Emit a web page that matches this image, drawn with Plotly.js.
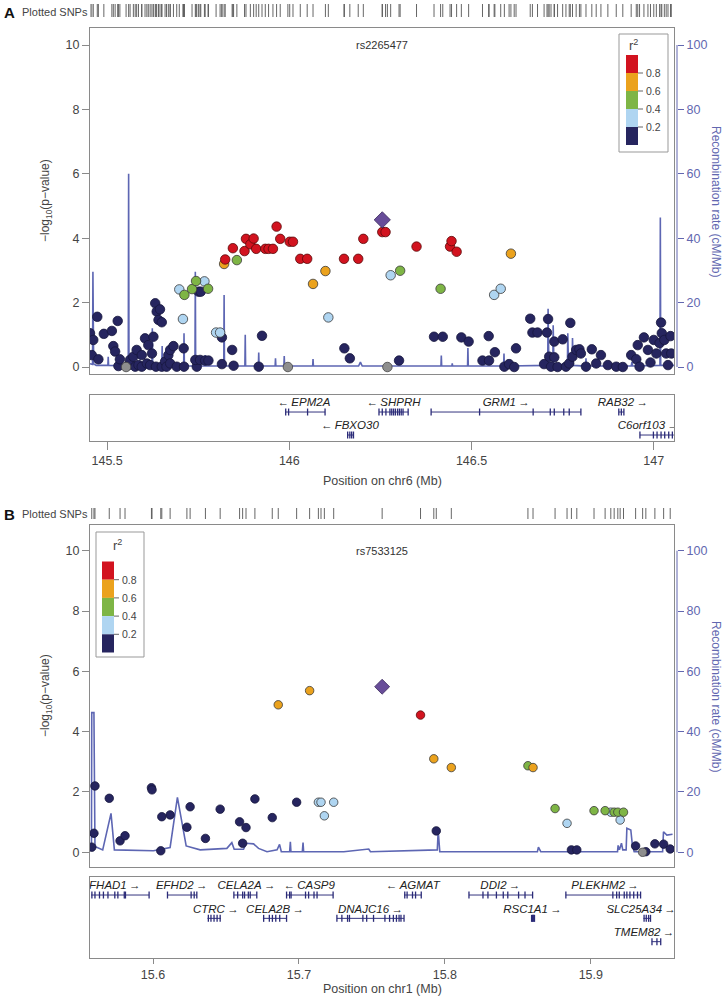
<!DOCTYPE html>
<html>
<head>
<meta charset="utf-8">
<script src="https://cdn.plot.ly/plotly-3.0.1.min.js"></script>
<style>html,body{margin:0;padding:0;background:#fff;}#plot{width:724px;height:996px;}</style>
</head>
<body>
<div id="plot"></div>
<script>
// ---------------- Panel A data (chr6) ----------------
const aNavyPos = [145.453,145.462,145.458,145.473,145.476,145.491,145.513,145.529,145.517,145.522,145.531,145.535,145.559,145.563,145.572,145.577,145.581,145.586,145.595,145.595,145.604,145.609,145.613,145.618,145.623,145.627,145.632,145.636,145.645,145.641,145.650,145.634,145.650,145.659,145.663,145.668,145.673,145.682,145.673,145.691,145.710,145.711,145.746,145.742,145.751,145.757,145.755,145.769,145.778,145.815,145.815,145.843,145.847,145.916,145.925,146.151,146.166,146.301,146.397,146.421,146.472,146.492,146.547,146.564,146.530,146.548,146.590,146.603,146.617,146.622,146.661,146.710,146.667,146.681,146.707,146.727,146.750,146.771,146.699,146.713,146.727,146.718,146.736,146.759,146.768,146.777,146.787,146.796,146.800,146.814,146.830,146.842,146.855,146.874,146.897,146.915,146.938,146.952,146.956,146.961,146.973,146.984,146.991,147.000,147.007,147.016,147.020,147.022,147.029,147.034,147.039,147.046,147.048];
const aNavyP = [1.05,0.84,0.37,1.56,0.24,1.03,1.12,1.43,0.65,0.48,0.03,0.24,0.06,0.22,0.32,0.01,0.53,0.06,0.37,0.01,0.89,0.11,0.68,0.06,0.42,0.94,1.98,1.72,1.79,1.46,1.39,0.01,0.01,0.17,0.01,0.37,0.53,0.65,0.11,0.01,0.58,0.01,0.01,0.22,2.34,2.34,0.22,0.20,0.20,0.92,0.09,0.53,0.04,0.01,0.97,0.58,0.27,0.20,0.94,0.94,0.92,0.79,0.96,0.46,0.20,0.20,0.01,0.09,0.00,0.58,1.50,1.49,1.07,1.07,1.07,0.79,0.86,1.37,0.09,0.32,0.30,0.01,0.00,0.01,0.11,0.32,0.53,0.55,0.42,0.01,0.55,0.11,0.37,0.06,0.01,0.00,0.37,0.24,0.68,0.01,0.92,0.53,0.14,0.84,0.42,0.74,1.38,1.05,0.84,0.42,0.06,0.96,0.42];
const aGrayPos = [145.552,145.996,146.269];
const aGrayP = [0,0,0];
const aLBluePos = [145.698,145.708,145.767,145.799,145.810,146.107,146.278,146.562,146.580];
const aLBlueP = [2.41,1.49,2.66,1.07,1.07,1.54,2.85,2.24,2.43];
const aGreenPos = [145.712,145.733,145.744,145.777,145.856,146.304,146.415];
const aGreenP = [2.24,2.42,2.67,2.43,3.32,2.99,2.43];
const aOrangePos = [145.821,146.065,146.099,146.608];
const aOrangeP = [3.20,2.58,2.98,3.52];
const aRedPos = [145.824,145.845,145.877,145.881,145.893,145.902,145.909,145.934,145.943,145.955,145.965,145.975,146.001,146.010,146.030,146.049,146.150,146.189,146.203,146.255,146.264,146.349,146.441,146.445,146.459];
const aRedP = [3.34,3.69,3.60,3.98,3.81,3.99,3.67,3.67,3.67,3.67,4.36,3.98,3.89,3.89,3.36,3.36,3.36,3.36,3.98,4.19,4.19,3.74,3.74,3.91,3.58];
const aLeadPos = [146.255];
const aLeadP = [4.57];
const aLeadName = "rs2265477";
const aRecPos = [145.453,145.460,145.461,145.463,145.470,145.502,145.503,145.504,145.540,145.558,145.559,145.560,145.600,145.623,145.624,145.625,145.650,145.651,145.652,145.710,145.711,145.712,145.741,145.742,145.743,145.768,145.769,145.770,145.820,145.821,145.822,145.878,145.879,145.880,145.915,145.916,145.917,145.961,145.962,145.963,145.985,145.986,145.987,146.064,146.065,146.066,146.190,146.195,146.200,146.416,146.417,146.418,146.446,146.447,146.448,146.489,146.490,146.491,146.588,146.589,146.590,146.709,146.710,146.712,146.723,146.724,146.726,146.763,146.764,146.766,146.776,146.777,146.779,146.813,146.814,146.815,146.938,146.940,146.942,147.017,147.018,147.019,147.0555];
const aRecRate = [1.0,0.8,29.6,1.0,0.5,0.5,3.2,0.5,0.4,0.4,60.0,0.4,0.3,0.3,12.0,0.3,0.3,6.5,0.3,0.3,10.5,0.3,0.3,29.6,0.3,0.3,3.7,0.3,0.3,22.4,0.3,0.3,10.0,0.3,0.3,4.5,0.3,0.3,2.7,0.3,0.3,3.4,0.3,0.3,2.5,0.3,0.3,1.5,0.3,0.3,3.6,0.3,0.3,1.1,0.3,0.3,5.9,0.3,0.3,4.2,0.3,0.5,18.1,1.5,1.5,13.0,1.0,0.5,10.5,1.0,1.0,9.0,0.5,0.3,2.7,0.3,0.3,1.5,0.3,0.5,46.4,0.5,0.5];
const aGeneNames = ["EPM2A","SHPRH","GRM1","RAB32","FBXO30","C6orf103"];
const aGeneStart = [145.990,146.246,146.389,146.904,146.160,146.962];
const aGeneEnd = [146.098,146.326,146.800,146.918,146.176,147.055];
const aGeneStrand = ["-","-","+","+","-","+"];
const aGeneRow = [1,1,1,1,2,2];
const aGeneLabelPos = [146.040,146.286,146.595,146.915,146.166,146.985];
const aGeneExons = [
  [145.990,145.998,146.050,146.098],
  [146.246,146.255,146.265,146.276,146.281,146.286,146.291,146.297,146.302,146.307,146.312,146.326],
  [146.389,146.522,146.669,146.716,146.727,146.753,146.768,146.800],
  [146.904,146.911,146.918],
  [146.160,146.166,146.171,146.176],
  [146.962,146.999,147.009,147.020,147.030,147.041,147.051]
];
const aTicks = [145.5,146,146.5,147];

// ---------------- Panel B data (chr1) ----------------
const bNavyPos = [15.5580,15.5595,15.5602,15.5700,15.5774,15.5808,15.5989,15.5993,15.6053,15.6060,15.6117,15.6232,15.6254,15.6359,15.6460,15.6593,15.6637,15.6614,15.6698,15.6817,15.6984,15.7941,15.8867,15.8904,15.9307,15.9377,15.9439,15.9499,15.9544];
const bNavyP = [0.17,0.63,2.20,1.79,0.38,0.55,2.14,2.07,0.05,1.18,1.24,0.83,1.51,0.46,1.43,1.01,0.82,0.30,1.77,1.15,1.66,0.71,0.08,0.08,0.21,0.02,0.28,0.27,0.11];
const bGrayPos = [15.9355];
const bGrayP = [0.0];
const bLBluePos = [15.7133,15.7151,15.7238,15.7174,15.8837,15.9137,15.9201];
const bLBlueP = [1.66,1.66,1.66,1.21,0.96,1.33,1.07];
const bGreenPos = [15.8569,15.8755,15.9022,15.9098,15.9160,15.9185,15.9224];
const bGreenP = [2.87,1.45,1.38,1.38,1.33,1.33,1.33];
const bOrangePos = [15.6858,15.7073,15.7924,15.8044,15.8604];
const bOrangeP = [4.89,5.36,3.10,2.81,2.81];
const bRedPos = [15.7833];
const bRedP = [4.55];
const bLeadPos = [15.7570];
const bLeadP = [5.49];
const bLeadName = "rs7533125";
const bRecPos = [15.5568,15.5578,15.5580,15.5595,15.5602,15.5655,15.5712,15.5735,15.6003,15.6117,15.6167,15.6227,15.6323,15.6506,15.6540,15.6556,15.6620,15.6639,15.6689,15.6723,15.6781,15.6850,15.6867,15.6879,15.6936,15.6941,15.6945,15.7023,15.7028,15.7032,15.7307,15.7478,15.7490,15.7948,15.7954,15.7965,15.8634,15.8641,15.8657,15.9183,15.9187,15.9196,15.9210,15.9219,15.9242,15.9247,15.9274,15.9285,15.9297,15.9492,15.9498,15.9521,15.9560];
const bRecRate = [1.7,1.7,46.3,46.3,1.9,0.8,12.9,0.8,0.5,1.6,18.2,2.1,0.8,1.3,3.2,1.0,1.0,3.0,2.8,1.3,0.2,0.8,2.6,0.2,0.2,3.5,0.2,0.2,3.2,0.2,0.2,1.1,0.2,0.8,7.1,0.2,0.2,1.7,0.2,0.2,2.3,0.8,3.0,0.8,0.8,8.0,7.4,2.3,0.2,0.2,6.8,5.7,6.0];
const bGeneNames = ["FHAD1","EFHD2","CELA2A","CASP9","AGMAT","DDI2","PLEKHM2","CTRC","CELA2B","DNAJC16","RSC1A1","SLC25A34","TMEM82"];
const bGeneStart = [15.5576,15.6099,15.6554,15.6915,15.7720,15.8165,15.8829,15.6373,15.6753,15.7260,15.8590,15.9360,15.9417];
const bGeneEnd = [15.5973,15.6300,15.6711,15.7234,15.7838,15.8601,15.9341,15.6465,15.6915,15.7720,15.8614,15.9409,15.9479];
const bGeneStrand = ["+","+","+","-","-","+","+","+","+","+","+","+","+"];
const bGeneRow = [1,1,1,1,1,1,1,2,2,2,2,2,3];
const bGeneLabelPos = [15.5738,15.6196,15.6640,15.7070,15.7780,15.8380,15.9098,15.6430,15.6836,15.7490,15.8600,15.9345,15.9365];
const bGeneExons = [
  [15.5581,15.5602,15.5633,15.5660,15.5691,15.5738,15.5759,15.5803,15.5811,15.5973],
  [15.6099,15.6261,15.6282,15.6300],
  [15.6554,15.6580,15.6614,15.6627,15.6653,15.6666,15.6711],
  [15.6915,15.6936,15.6946,15.7045,15.7066,15.7103,15.7124,15.7234],
  [15.7725,15.7741,15.7778,15.7799,15.7838],
  [15.8165,15.8261,15.8295,15.8353,15.8400,15.8431,15.8505,15.8549,15.8601],
  [15.8829,15.9151,15.9177,15.9195,15.9229,15.9247,15.9268,15.9294,15.9320,15.9341],
  [15.6379,15.6397,15.6418,15.6439,15.6460],
  [15.6758,15.6797,15.6818,15.6841,15.6868,15.6915],
  [15.7260,15.7294,15.7333,15.7346,15.7438,15.7464,15.7511,15.7589,15.7621,15.7647,15.7668,15.7686,15.7699,15.7720],
  [15.8594,15.8600,15.8604,15.8609,15.8614],
  [15.9365,15.9380,15.9396,15.9409],
  [15.9419,15.9453,15.9479]
];
const bTicks = [15.6,15.7,15.8,15.9];

const legendLabels = ["0.8","0.6","0.4","0.2"];

// ---------------- styling ----------------
const W = 724, H = 996;
const FONT = "Liberation Sans, Arial, sans-serif";
const C = {navy:'#26255F', gray:'#8E8E8E', lblue:'#AFD5F1', green:'#7EB545', orange:'#EBA21D', red:'#D2131F', lead:'#684D99', rec:'#5D66B3', recText:'#6267B0', axis:'#8A8A8A', text:'#444444'};
const legendColors = [C.red, C.orange, C.green, C.lblue, C.navy];
const PX = x => x / W;
const PY = y => 1 - y / H;

const traces = [];
const shapes = [];
const annotations = [];

function note(o) {
  annotations.push(Object.assign({xref:'paper', yref:'paper', showarrow:false, xanchor:'center', yanchor:'middle'}, o));
}

function pts(xs, ys, color, lineColor, size, xa, ya, symbol) {
  traces.push({type:'scatter', mode:'markers', x:xs, y:ys, xaxis:xa, yaxis:ya, hoverinfo:'skip',
    marker:{color:color, size:size, symbol:symbol||'circle', line:{color:lineColor, width:0.8}}});
}

function panel(P) {
  traces.push({type:'scatter', mode:'lines', x:P.recPos, y:P.recRate, xaxis:P.xa, yaxis:P.yRec,
    line:{color:C.rec, width:1.6}, hoverinfo:'skip'});
  pts(P.navy[0], P.navy[1], C.navy, '#16163d', P.ms, P.xa, P.yP);
  pts(P.gray[0], P.gray[1], C.gray, '#444', P.ms, P.xa, P.yP);
  pts(P.lblue[0], P.lblue[1], C.lblue, '#3a3a3a', P.ms, P.xa, P.yP);
  pts(P.green[0], P.green[1], C.green, '#3a3a3a', P.ms, P.xa, P.yP);
  pts(P.orange[0], P.orange[1], C.orange, '#3a3a3a', P.ms, P.xa, P.yP);
  pts(P.red[0], P.red[1], C.red, '#5a0a0a', P.ms, P.xa, P.yP);
  pts(P.lead[0], P.lead[1], C.lead, '#3b2a5c', P.ms + 3, P.xa, P.yP, 'diamond');
  const all = [].concat(P.navy[0], P.gray[0], P.lblue[0], P.green[0], P.orange[0], P.red[0], P.lead[0]);
  const rx = [], ry = [];
  all.forEach(p => { rx.push(p, p, null); ry.push(0, 1, null); });
  traces.push({type:'scatter', mode:'lines', x:rx, y:ry, xaxis:P.xa, yaxis:P.yRug,
    line:{color:'#555', width:0.9}, hoverinfo:'skip'});
  const gx = [], gy = [], ex = [], ey = [], lx = [], ly = [], lt = [];
  P.gNames.forEach((n, i) => {
    gx.push(P.gStart[i], P.gEnd[i], null); gy.push(P.gRow[i], P.gRow[i], null);
    P.gExons[i].forEach(e => { ex.push(e); ey.push(P.gRow[i]); });
    lx.push(P.gLabel[i]); ly.push(P.gRow[i] - 0.37);
    lt.push('<i>' + (P.gStrand[i] === '+' ? n + '\u2009\u2192' : '\u2190\u2009' + n) + '</i>');
  });
  traces.push({type:'scatter', mode:'lines', x:gx, y:gy, xaxis:P.xg, yaxis:P.yg,
    line:{color:'#34347F', width:1}, hoverinfo:'skip'});
  traces.push({type:'scatter', mode:'markers', x:ex, y:ey, xaxis:P.xg, yaxis:P.yg, hoverinfo:'skip',
    marker:{symbol:'line-ns', size:5, line:{color:'#2B2B78', width:1.3}}});
  traces.push({type:'scatter', mode:'text', x:lx, y:ly, text:lt, xaxis:P.xg, yaxis:P.yg, hoverinfo:'skip',
    textposition:'middle center', textfont:{family:FONT, size:11.5, color:'#222'}});
  annotations.push({x:P.lead[0][0], y:10, xref:P.xa, yref:P.yP, text:P.leadName, showarrow:false,
    xanchor:'center', yanchor:'middle', font:{family:FONT, size:11, color:'#333'}});
  shapes.push({type:'line', xref:'paper', yref:P.yRec, x0:PX(677), x1:PX(677), y0:0, y1:100,
    line:{color:C.recText, width:1}});
  const L = P.leg;
  shapes.push({type:'rect', xref:'paper', yref:'paper', x0:PX(L.x0), x1:PX(L.x1), y0:PY(L.y1), y1:PY(L.y0),
    line:{color:'#999', width:1}, fillcolor:'rgba(255,255,255,0.9)'});
  legendColors.forEach((c, i) => {
    shapes.push({type:'rect', xref:'paper', yref:'paper', x0:PX(L.bx0), x1:PX(L.bx1),
      y0:PY(L.by0 + (i + 1) * L.bh), y1:PY(L.by0 + i * L.bh), line:{width:0}, fillcolor:c});
  });
  legendLabels.forEach((t, i) => {
    const yy = L.by0 + (i + 1) * L.bh;
    shapes.push({type:'line', xref:'paper', yref:'paper', x0:PX(L.bx1), x1:PX(L.bx1 + 5), y0:PY(yy), y1:PY(yy),
      line:{color:'#666', width:1}});
    note({x:PX(L.bx1 + 6), y:PY(yy), text:t, xanchor:'left', font:{family:FONT, size:10.5, color:'#444'}});
  });
  note({x:PX(L.rx), y:PY(L.ry), text:'r<sup>2</sup>', font:{family:FONT, size:13, color:'#444'}});
  note({x:PX(46), y:PY(P.midY), text:'\u2212log<sub>10</sub>(p\u2212value)', textangle:-90,
    font:{family:FONT, size:12, color:C.text}});
  note({x:PX(716), y:PY(P.midY), text:'Recombination rate (cM/Mb)', textangle:90,
    font:{family:FONT, size:12, color:C.recText}});
  note({x:PX(382), y:PY(P.xTitleY), text:P.xTitle, font:{family:FONT, size:12.5, color:C.text}});
  note({x:PX(9), y:PY(P.letterY), text:'<b>' + P.letter + '</b>', font:{family:FONT, size:15, color:'#111'}});
  note({x:PX(20), y:PY(P.letterY), text:'Plotted SNPs', xanchor:'left', font:{family:FONT, size:11, color:'#444'}});
}

panel({xa:'x', yRec:'y', yP:'y2', yRug:'y3', xg:'x2', yg:'y4', ms:9.5,
  navy:[aNavyPos,aNavyP], gray:[aGrayPos,aGrayP], lblue:[aLBluePos,aLBlueP], green:[aGreenPos,aGreenP],
  orange:[aOrangePos,aOrangeP], red:[aRedPos,aRedP], lead:[aLeadPos,aLeadP], leadName:aLeadName,
  recPos:aRecPos, recRate:aRecRate,
  gNames:aGeneNames, gStart:aGeneStart, gEnd:aGeneEnd, gStrand:aGeneStrand, gRow:aGeneRow, gLabel:aGeneLabelPos, gExons:aGeneExons,
  leg:{x0:619, x1:668, y0:34, y1:152, bx0:626, bx1:638, by0:55, bh:18, rx:633, ry:45},
  midY:201, xTitleY:481, xTitle:'Position on chr6 (Mb)', letter:'A', letterY:12});

panel({xa:'x3', yRec:'y5', yP:'y6', yRug:'y7', xg:'x4', yg:'y8', ms:8.5,
  navy:[bNavyPos,bNavyP], gray:[bGrayPos,bGrayP], lblue:[bLBluePos,bLBlueP], green:[bGreenPos,bGreenP],
  orange:[bOrangePos,bOrangeP], red:[bRedPos,bRedP], lead:[bLeadPos,bLeadP], leadName:bLeadName,
  recPos:bRecPos, recRate:bRecRate,
  gNames:bGeneNames, gStart:bGeneStart, gEnd:bGeneEnd, gStrand:bGeneStrand, gRow:bGeneRow, gLabel:bGeneLabelPos, gExons:bGeneExons,
  leg:{x0:96, x1:144, y0:532, y1:657, bx0:102, bx1:114, by0:561.5, bh:18.2, rx:117, ry:545},
  midY:696, xTitleY:989, xTitle:'Position on chr1 (Mb)', letter:'B', letterY:514});

const tickFont = {family:FONT, size:12.5, color:C.text};
const recFont = {family:FONT, size:12.5, color:C.recText};
const hidden = {showgrid:false, zeroline:false, showticklabels:false, ticks:'', showline:false, fixedrange:true};
const dx = [PX(90), PX(674)];
const aRange = [145.453, 147.0555], bRange = [15.5568, 15.957];

const layout = {
  width:W, height:H, margin:{l:0, r:0, t:0, b:0}, showlegend:false,
  paper_bgcolor:'#fff', plot_bgcolor:'rgba(0,0,0,0)', font:{family:FONT},
  xaxis:{domain:dx, anchor:'y', range:aRange, showgrid:false, zeroline:false, showticklabels:false, ticks:'',
    showline:true, mirror:true, linecolor:C.axis, linewidth:1},
  yaxis:{domain:[PY(374), PY(28)], anchor:'free', position:PX(677), side:'right', range:[-2.17, 105.28],
    showgrid:false, zeroline:false, showline:false, ticks:'outside', ticklen:6, tickcolor:C.recText,
    tickvals:[0,20,40,60,80,100], tickfont:recFont},
  yaxis2:{overlaying:'y', anchor:'x', side:'left', range:[-0.217, 10.528], showgrid:false, zeroline:false,
    showline:true, mirror:true, linecolor:C.axis, ticks:'outside', ticklen:7, tickcolor:C.axis,
    tickvals:[0,2,4,6,8,10], tickfont:tickFont},
  yaxis3:Object.assign({domain:[PY(17), PY(4)], anchor:'x', range:[0,1]}, hidden),
  xaxis2:{domain:dx, anchor:'y4', range:aRange, showgrid:false, zeroline:false, showline:true, mirror:true,
    linecolor:C.axis, ticks:'outside', ticklen:8, tickcolor:C.axis, tickvals:aTicks,
    ticktext:aTicks.map(String), tickfont:tickFont},
  yaxis4:Object.assign({}, hidden, {domain:[PY(441), PY(395)], anchor:'x2', range:[2.26, 0.26],
    showline:true, mirror:true, linecolor:C.axis}),
  xaxis3:{domain:dx, anchor:'y5', range:bRange, showgrid:false, zeroline:false, showticklabels:false, ticks:'',
    showline:true, mirror:true, linecolor:C.axis, linewidth:1},
  yaxis5:{domain:[PY(866.5), PY(525)], anchor:'free', position:PX(677), side:'right', range:[-4.71, 108.52],
    showgrid:false, zeroline:false, showline:false, ticks:'outside', ticklen:6, tickcolor:C.recText,
    tickvals:[0,20,40,60,80,100], tickfont:recFont},
  yaxis6:{overlaying:'y5', anchor:'x3', side:'left', range:[-0.471, 10.852], showgrid:false, zeroline:false,
    showline:true, mirror:true, linecolor:C.axis, ticks:'outside', ticklen:7, tickcolor:C.axis,
    tickvals:[0,2,4,6,8,10], tickfont:tickFont},
  yaxis7:Object.assign({domain:[PY(519), PY(508)], anchor:'x3', range:[0,1]}, hidden),
  xaxis4:{domain:dx, anchor:'y8', range:bRange, showgrid:false, zeroline:false, showline:true, mirror:true,
    linecolor:C.axis, ticks:'outside', ticklen:5, tickcolor:C.axis, tickvals:bTicks,
    ticktext:bTicks.map(String), tickfont:tickFont},
  yaxis8:Object.assign({}, hidden, {domain:[PY(958), PY(877)], anchor:'x4', range:[3.70, 0.227],
    showline:true, mirror:true, linecolor:C.axis}),
  shapes:shapes,
  annotations:annotations
};

Plotly.newPlot('plot', traces, layout, {staticPlot:true, displayModeBar:false});
</script>
</body>
</html>
